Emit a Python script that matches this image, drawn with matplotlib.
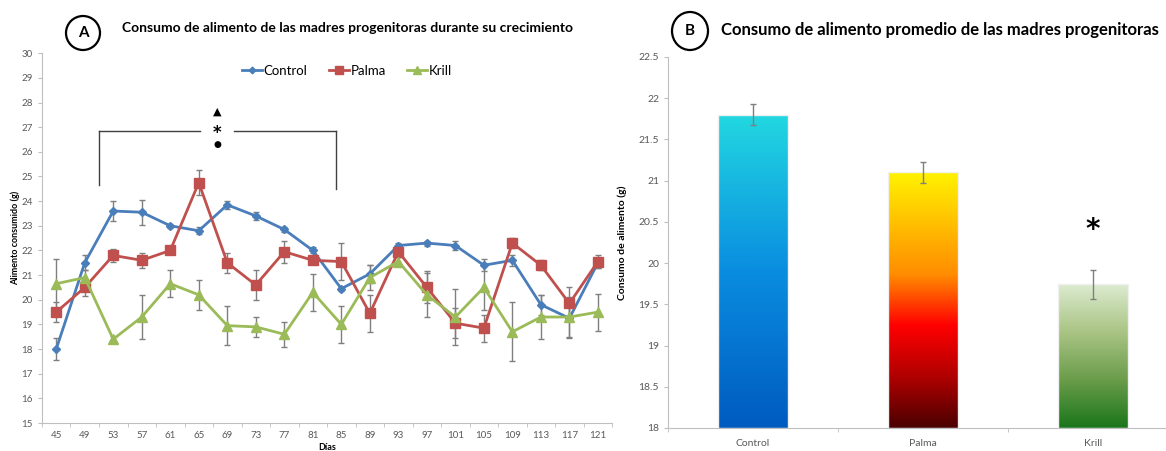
import numpy as np
import matplotlib
matplotlib.use('Agg')
import matplotlib.pyplot as plt
from matplotlib.patches import Ellipse
from matplotlib.colors import LinearSegmentedColormap

plt.rcParams['font.family'] = ['Lato', 'DejaVu Sans']

# ---- data, panel A ----
dias = [45, 49, 53, 57, 61, 65, 69, 73, 77, 81, 85, 89, 93, 97, 101, 105, 109, 113, 117, 121]
control = [18.0, 21.5, 23.6, 23.55, 23.0, 22.8, 23.85, 23.4, 22.85, 22.0,
           20.45, 21.05, 22.2, 22.3, 22.2, 21.4, 21.6, 19.8, 19.25, 21.5]
control_err = [0.45, 0.3, 0.42, 0.5, 0.08, 0.15, 0.15, 0.18, 0.1, 0.12,
               0.08, 0.35, 0.1, 0.1, 0.2, 0.25, 0.22, 0.4, 0.8, 0.2]
palma = [19.5, 20.5, 21.8, 21.6, 22.0, 24.75, 21.5, 20.6, 21.95, 21.6,
         21.55, 19.45, 21.95, 20.5, 19.05, 18.85, 22.3, 21.4, 19.85, 21.55]
palma_err = [0.4, 0.35, 0.25, 0.3, 0.05, 0.5, 0.4, 0.6, 0.45, 0.15,
             0.75, 0.75, 0.2, 0.65, 0.6, 0.55, 0.2, 0.2, 0.65, 0.25]
krill = [20.65, 20.9, 18.4, 19.3, 20.65, 20.2, 18.95, 18.9, 18.6, 20.3,
         19.0, 20.9, 21.55, 20.2, 19.3, 20.5, 18.7, 19.3, 19.3, 19.5]
krill_err = [1.0, 0.3, 0.15, 0.9, 0.55, 0.6, 0.8, 0.4, 0.5, 0.75,
             0.75, 0.5, 0.2, 0.9, 1.15, 0.9, 1.2, 0.9, 0.8, 0.75]

# ---- data, panel B ----
grupos = ['Control', 'Palma', 'Krill']
promedio = [21.8, 21.1, 19.74]
promedio_err = [0.13, 0.13, 0.18]

fig = plt.figure(figsize=[11.66, 4.51], dpi=100)

# ================= panel A =================
axA = fig.add_axes([0.036, 0.062, 0.489, 0.820])
x = np.arange(len(dias))
tick_grey = '#595959'
err_grey = '#7f7f7f'

series = [
    ('Control', control, control_err, '#4a7ebb', 'D', 4.5),
    ('Palma', palma, palma_err, '#c0504d', 's', 7),
    ('Krill', krill, krill_err, '#9bbb59', '^', 7),
]
for name, vals, errs, col, mk, ms in series:
    axA.errorbar(x, vals, yerr=errs, fmt='none', ecolor=err_grey, elinewidth=1,
                 capsize=2, capthick=1, zorder=2)
for name, vals, errs, col, mk, ms in series:
    axA.plot(x, vals, color=col, lw=2, marker=mk, ms=ms, mec=col, label=name, zorder=3)

axA.set_xlim(-0.5, len(dias) - 0.5)
axA.set_ylim(15, 30)
axA.set_yticks(np.arange(15, 31, 1))
axA.set_xticks(x)
axA.set_xticklabels([str(d) for d in dias])
axA.set_xticks(np.arange(-0.5, len(dias), 1), minor=True)
axA.tick_params(axis='x', which='major', length=0, labelsize=7, colors=tick_grey, pad=6)
axA.tick_params(axis='x', which='minor', length=3, color='#bfbfbf')
axA.tick_params(axis='y', length=3, color='#bfbfbf', labelsize=7, labelcolor=tick_grey)
for s in ['top', 'right']:
    axA.spines[s].set_visible(False)
for s in ['left', 'bottom']:
    axA.spines[s].set_color('#bfbfbf')

axA.set_ylabel('Alimento consumido (g)', fontsize=6.5, fontweight='bold', labelpad=1)
axA.set_xlabel('Días', fontsize=6.5, fontweight='bold', labelpad=2)

leg = axA.legend(loc='upper center', bbox_to_anchor=(0.535, 1.0), ncol=3, frameon=False,
                 fontsize=9.5, handlelength=1.5, columnspacing=1.6, handletextpad=0.15,
                 markerscale=0.75)

# significance bracket
br_col = '#404040'
axA.plot([1.5, 1.5], [24.65, 26.84], color=br_col, lw=1)
axA.plot([9.8, 9.8], [24.5, 26.84], color=br_col, lw=1)
axA.plot([1.5, 5.05], [26.84, 26.84], color=br_col, lw=1)
axA.plot([6.25, 9.8], [26.84, 26.84], color=br_col, lw=1)
axA.text(5.64, 27.62, '\u25B2', ha='center', va='center', fontsize=8, family='DejaVu Sans')
axA.text(5.64, 26.78, '*', ha='center', va='center', fontsize=12, fontweight='bold',
         family='DejaVu Sans')
axA.text(5.64, 26.3, '\u25CF', ha='center', va='center', fontsize=6.5, family='DejaVu Sans')

fig.text(347 / 1166, 1 - 28 / 451, 'Consumo de alimento de las madres progenitoras durante su crecimiento',
         ha='center', va='center', fontsize=10, fontweight='bold')
fig.add_artist(Ellipse((83 / 1166, 1 - 33 / 451), 34 / 1166, 34 / 451,
                       transform=fig.transFigure, fill=False, lw=1.6, ec='black'))
fig.text(83 / 1166, 1 - 33 / 451, 'A', ha='center', va='center', fontsize=11, fontweight='bold')

# ================= panel B =================
axB = fig.add_axes([0.573, 0.051, 0.437, 0.823])
xb = np.arange(len(grupos))
bw = 0.41
cmaps = [
    LinearSegmentedColormap.from_list('c', ['#005bc0', '#0a8de0', '#22d8e0']),
    LinearSegmentedColormap.from_list('p', ['#4a0000', '#b00000', '#ff0000', '#ff8c00', '#ffc000', '#fff200'],
                                      N=256),
    LinearSegmentedColormap.from_list('k', ['#1a761a', '#6a9c4a', '#a9c484', '#dcebd0']),
]
base = 18
for i in range(len(grupos)):
    bar = axB.bar(xb[i], promedio[i] - base, bottom=base, width=bw, color='none',
                  edgecolor='#f0f0f0', lw=1, zorder=3)[0]
    grad = np.linspace(0, 1, 256).reshape(-1, 1)
    im = axB.imshow(grad, extent=[xb[i] - bw / 2, xb[i] + bw / 2, base, promedio[i]],
                    origin='lower', aspect='auto', cmap=cmaps[i], zorder=2)
    im.set_clip_path(bar)
axB.errorbar(xb, promedio, yerr=promedio_err, fmt='none', ecolor='#7f7f7f', elinewidth=1,
             capsize=2.5, capthick=1, zorder=4)
axB.text(xb[2], 20.4, '*', ha='center', va='center', fontsize=20, fontweight='bold',
         family='DejaVu Sans')

axB.set_xlim(-0.5, len(grupos) - 0.5)
axB.set_ylim(18, 22.5)
axB.set_yticks(np.arange(18, 22.51, 0.5))
axB.set_yticklabels(['18', '18.5', '19', '19.5', '20', '20.5', '21', '21.5', '22', '22.5'])
axB.set_xticks(xb)
axB.set_xticklabels(grupos)
axB.set_xticks(np.arange(-0.5, len(grupos), 1), minor=True)
axB.tick_params(axis='x', which='major', length=0, labelsize=7.5, colors=tick_grey, pad=8)
axB.tick_params(axis='x', which='minor', length=3, color='#bfbfbf')
axB.tick_params(axis='y', length=3, color='#bfbfbf', labelsize=7.5, labelcolor=tick_grey)
for s in ['top', 'right']:
    axB.spines[s].set_visible(False)
for s in ['left', 'bottom']:
    axB.spines[s].set_color('#bfbfbf')
axB.set_ylabel('Consumo de alimento (g)', fontsize=7.5, fontweight='bold', labelpad=8)

fig.text(940 / 1166, 1 - 30 / 451, 'Consumo de alimento promedio de las madres progenitoras',
         ha='center', va='center', fontsize=12, fontweight='bold')
fig.add_artist(Ellipse((690 / 1166, 1 - 31 / 451), 36 / 1166, 38 / 451,
                       transform=fig.transFigure, fill=False, lw=1.6, ec='black'))
fig.text(690 / 1166, 1 - 31 / 451, 'B', ha='center', va='center', fontsize=11, fontweight='bold')

fig.savefig('out.png', dpi=100)
